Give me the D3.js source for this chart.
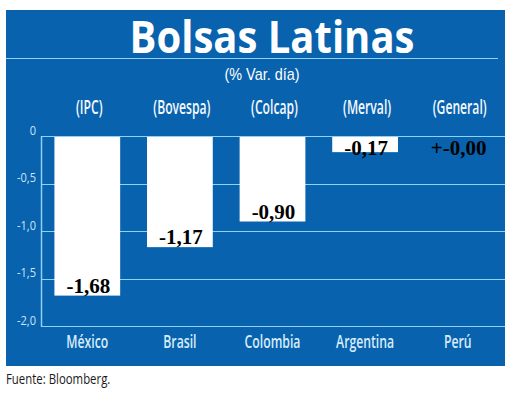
<!DOCTYPE html>
<html>
<head>
<meta charset="utf-8">
<script src="https://cdn.jsdelivr.net/npm/d3@7"></script>
<style>
  body { margin: 0; background: #fff; }
  svg { display: block; }
</style>
</head>
<body>
<div id="chart"></div>
<script>
// data
var countries = ["México", "Brasil", "Colombia", "Argentina", "Perú"];
var indexes = ["(IPC)", "(Bovespa)", "(Colcap)", "(Merval)", "(General)"];
var values = [-1.68, -1.17, -0.90, -0.17, 0.00];
var valueLabels = ["-1,68", "-1,17", "-0,90", "-0,17", "+-0,00"];
var tickValues = [0, -0.5, -1.0, -1.5, -2.0];
var tickLabels = ["0", "-0,5", "-1,0", "-1,5", "-2,0"];

var width = 520, height = 407;
var blue = "#0862ad", light = "#8fd2f6", pale = "#d6ecfb";
var narrow = "'Open Sans', 'DejaVu Sans', sans-serif";

var svg = d3.select("#chart").append("svg")
  .attr("width", width).attr("height", height);

// squeeze text horizontally to mimic the condensed type
function squeeze(sel, k) {
  sel.each(function() {
    var t = d3.select(this);
    var x = +t.attr("x");
    t.attr("x", x / k).attr("transform", "scale(" + k + ",1)");
  });
}

// panel
svg.append("rect").attr("x", 6).attr("y", 10).attr("width", 499).attr("height", 356)
  .attr("fill", blue);
svg.append("line").attr("x1", 6).attr("x2", 498).attr("y1", 58.5).attr("y2", 58.5)
  .attr("stroke", light).attr("stroke-width", 1);

// title
var title = svg.append("text").text("Bolsas Latinas")
  .attr("x", 272).attr("y", 53)
  .attr("text-anchor", "middle")
  .attr("font-family", narrow).attr("font-weight", 700)
  .attr("font-size", "45px").attr("fill", "#fff");
var tw = title.node().getComputedTextLength();
squeeze(title, 285 / tw);

svg.append("text").text("(% Var. día)")
  .attr("x", 262).attr("y", 80.5)
  .attr("text-anchor", "middle")
  .attr("font-family", "'Liberation Sans', sans-serif").attr("font-size", "16px")
  .attr("fill", "#fff")
  .call(squeeze, 0.9);

var x = d3.scaleBand().domain(countries).range([41, 504])
  .paddingInner(0.29).paddingOuter(0.145);
var y = d3.scaleLinear().domain([0, -2]).range([136, 326]);

// index names
svg.selectAll(".idx").data(indexes).enter().append("text")
  .attr("class", "idx")
  .text(function(d) { return d; })
  .attr("x", function(d, i) { return x(countries[i]) + x.bandwidth() / 2 + 2; })
  .attr("y", 114)
  .attr("text-anchor", "middle")
  .attr("font-family", narrow).attr("font-weight", 600)
  .attr("font-size", "19px").attr("fill", "#f4f9ff")
  .call(squeeze, 0.64);

// grid lines
svg.selectAll(".grid").data(tickValues).enter().append("line")
  .attr("x1", 41).attr("x2", 505)
  .attr("y1", function(d) { return Math.round(y(d)) + 0.5; })
  .attr("y2", function(d) { return Math.round(y(d)) + 0.5; })
  .attr("stroke", light).attr("stroke-width", 1.2);
svg.append("line").attr("x1", 41.5).attr("x2", 41.5)
  .attr("y1", y(0)).attr("y2", y(-2) + 1)
  .attr("stroke", light).attr("stroke-width", 1.5);

svg.selectAll(".tick").data(tickValues).enter().append("text")
  .text(function(d, i) { return tickLabels[i]; })
  .attr("x", 36)
  .attr("y", function(d) { return y(d) - 1; })
  .attr("text-anchor", "end")
  .attr("font-family", narrow).attr("font-size", "13px")
  .attr("fill", "#c9e5f8")
  .call(squeeze, 0.85);

// bars
svg.selectAll(".bar").data(values).enter().append("rect")
  .attr("x", function(d, i) { return x(countries[i]); })
  .attr("y", y(0) + 1)
  .attr("width", x.bandwidth())
  .attr("height", function(d) { return Math.max(0, y(d) - y(0) - 1); })
  .attr("fill", "#fff");

svg.selectAll(".val").data(values).enter().append("text")
  .text(function(d, i) { return valueLabels[i]; })
  .attr("x", function(d, i) { return x(countries[i]) + x.bandwidth() / 2 + 1; })
  .attr("y", function(d) { return Math.max(y(d) - 3, y(0) + 19); })
  .attr("text-anchor", "middle")
  .attr("font-family", "'Liberation Serif', serif").attr("font-weight", "bold")
  .attr("font-size", "21px").attr("fill", "#000");

// country labels
svg.selectAll(".cty").data(countries).enter().append("text")
  .text(function(d) { return d; })
  .attr("x", function(d) { return x(d) + x.bandwidth() / 2; })
  .attr("y", 348)
  .attr("text-anchor", "middle")
  .attr("font-family", narrow).attr("font-weight", 600)
  .attr("font-size", "18px").attr("fill", pale)
  .call(squeeze, 0.68);

// source
svg.append("text").text("Fuente: Bloomberg.")
  .attr("x", 6).attr("y", 384)
  .attr("font-family", narrow).attr("font-size", "15px").attr("fill", "#1a1a1a")
  .call(squeeze, 0.76);
</script>
</body>
</html>
